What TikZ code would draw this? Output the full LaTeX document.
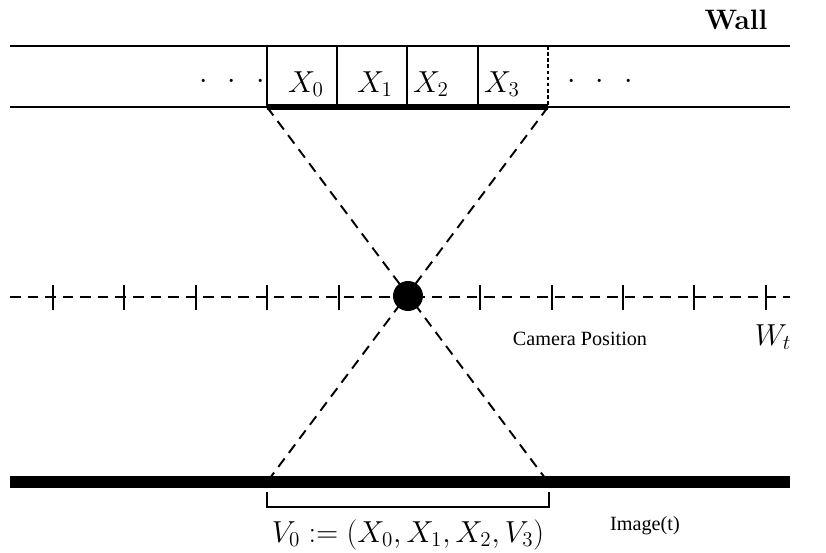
\documentclass[tikz,border=0pt]{standalone}
\usepackage{fontspec}
\newfontfamily\capfont{Liberation Serif}
\usetikzlibrary{calc}

\tikzset{
    thinline/.style = {line width=1.1pt},
    dashline/.style = {line width=1.1pt, dash pattern=on 6pt off 4pt},
    mathlabel/.style = {inner sep=0pt, font=\fontsize{17.5}{20}\selectfont},
    caplabel/.style = {inner sep=0pt, font=\capfont\fontsize{11.5}{13}\selectfont}
}
\newcommand{\wdots}{\cdot\;\,\cdot\;\,\cdot}

\begin{document}
\begin{tikzpicture}[x=0.02cm, y=-0.02cm]
    \useasboundingbox (0,0) rectangle (826,552);
    % Wall
    \coordinate (WTL) at (10,46);
    \coordinate (WTR) at (790,46);
    \coordinate (WBL) at (10,107);
    \coordinate (WBR) at (790,107);
    \draw[thinline] (WTL) -- (WTR);
    \draw[thinline] (WBL) -- (WBR);
    \node[font=\bfseries\fontsize{16}{19}\selectfont, inner sep=0pt] (wall) at (736,20) {Wall};

    % Visible part of the wall
    \coordinate (WL) at (267,107);
    \coordinate (WR) at (548,107);
    \draw[line width=3.4pt] (WL) -- (WR);
    \foreach \x in {267,337,407,478}
        \draw[thinline] (\x,46) -- (\x,107);
    \draw[line width=1.1pt, dash pattern=on 2pt off 1.5pt] (548,46) -- (548,107);

    \node[mathlabel, anchor=base] (x0) at (306,92) {$X_0$};
    \node[mathlabel, anchor=base] (x1) at (375,92) {$X_1$};
    \node[mathlabel, anchor=base] (x2) at (431,92) {$X_2$};
    \node[mathlabel, anchor=base] (x3) at (502,92) {$X_3$};
    \node[mathlabel, anchor=base] (dotsl) at (232,88) {$\wdots$};
    \node[mathlabel, anchor=base] (dotsr) at (600,88) {$\wdots$};

    % Camera track
    \coordinate (TL) at (10,297);
    \coordinate (TR) at (790,297);
    \draw[dashline] (TL) -- (TR);
    \foreach \x in {53,124,196,267,339,480,552,623,694,766}
        \draw[thinline] (\x,285) -- (\x,310);

    % Image
    \coordinate (IL) at (267,482);
    \coordinate (IR) at (548,482);
    \draw[line width=6.8pt] (10,482) -- (790,482);

    % Projection lines
    \draw[dashline] (WL) -- (IR);
    \draw[dashline] (WR) -- (IL);
    \node[circle, fill, inner sep=0pt, minimum size=0.6cm] (cam) at (408,296) {};

    \node[caplabel, anchor=base] (campos) at (580,345) {Camera Position};
    \node[mathlabel, anchor=base] (wt) at (773,345) {$W_t$};

    % Bracket under the image
    \draw[thinline] (267,492) -- (267,507) -- (549,507) -- (549,492);
    \node[mathlabel, anchor=base] (v0) at (408,542) {$V_0 := (X_0, X_1, X_2, V_3)$};
    \node[caplabel, anchor=base] (img) at (645,530) {Image(t)};
\end{tikzpicture}
\end{document}
